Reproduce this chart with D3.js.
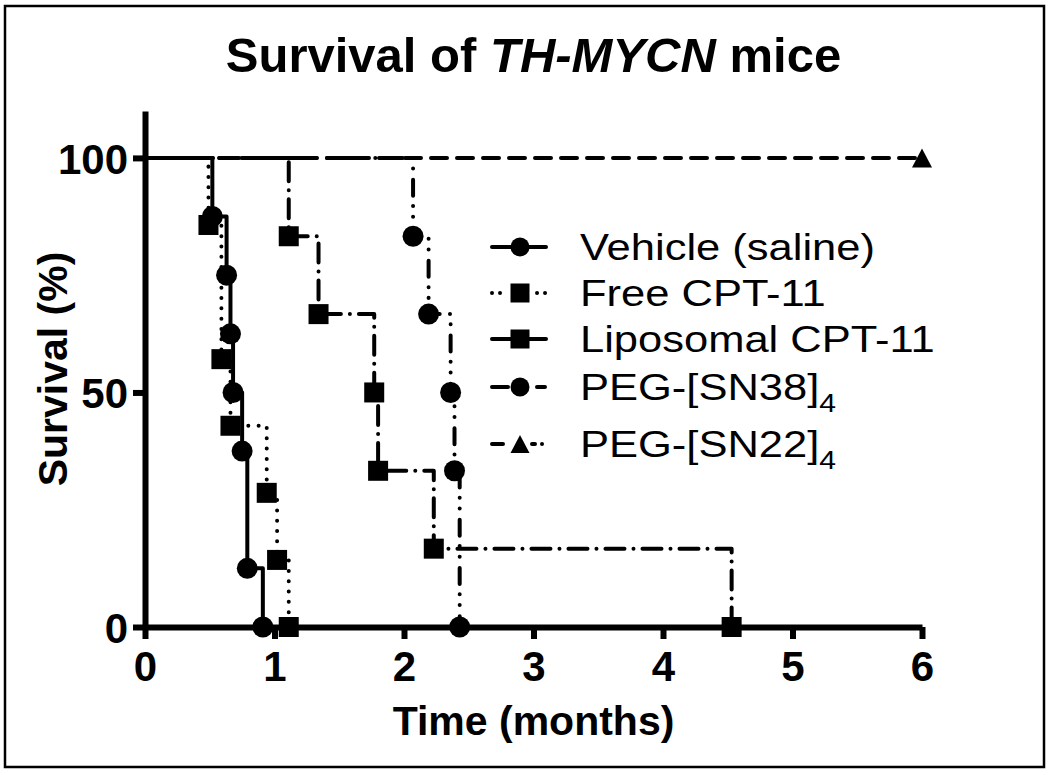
<!DOCTYPE html>
<html><head><meta charset="utf-8">
<script src="https://cdn.jsdelivr.net/npm/d3@7"></script>
<style>
body{margin:0;background:#fff}
svg{display:block}
text{font-family:"Liberation Sans",Arial,Helvetica,sans-serif;fill:#000}
</style>
</head><body>
<svg id="chart" width="1050" height="775"></svg>
<script>
// ---- data ----
const seriesNames = ["Vehicle (saline)", "Free CPT-11", "Liposomal CPT-11", "PEG-[SN38]", "PEG-[SN22]"];
const seriesSubs  = ["", "", "", "4", "4"];
const vehicleT    = [0.52, 0.63, 0.66, 0.68, 0.75, 0.79, 0.91];
const vehicleS    = [87.5, 75, 62.5, 50, 37.5, 12.5, 0];
const freeT       = [0.49, 0.59, 0.66, 0.94, 1.02, 1.11];
const freeS       = [85.7, 57.1, 42.9, 28.6, 14.3, 0];
const liposomalT  = [1.11, 1.34, 1.77, 1.80, 2.23, 4.53];
const liposomalS  = [83.3, 66.7, 50, 33.3, 16.7, 0];
const sn38T       = [2.07, 2.19, 2.36, 2.39, 2.43];
const sn38S       = [83.3, 66.7, 50, 33.3, 0];
const sn22T       = [6];
const sn22S       = [100];
const xTicks      = [0, 1, 2, 3, 4, 5, 6];
const yTicks      = [0, 50, 100];
const titleParts  = ["Survival of ", "TH-MYCN", " mice"];
const xLabel      = "Time (months)";
const yLabel      = "Survival (%)";

const seriesT = [vehicleT, freeT, liposomalT, sn38T, sn22T];
const seriesS = [vehicleS, freeS, liposomalS, sn38S, sn22S];

// ---- styles ----
const styles = [
  {marker: "circle",   dash: null,                          legendDash: null},
  {marker: "square",   dash: "0.01 10.3",                   legendDash: "0.01 8 0.01 37 0.01 8"},
  {marker: "square",   dash: "19 9 0.01 9",                 legendDash: null},
  {marker: "circle",   dash: "16 10.3 0.01 10.7 0.01 11.3", legendDash: "16 29 8 100"},
  {marker: "triangle", dash: "16 10",                       legendDash: "11 29 3 7 0.01 100"}
];

const series = seriesNames.map((name, i) => ({
  name, sub: seriesSubs[i], style: styles[i],
  points: [{t: 0, s: 100}].concat(seriesT[i].map((t, j) => ({t, s: seriesS[i][j]}))),
  events: seriesT[i].map((t, j) => ({t, s: seriesS[i][j]}))
}));

const svg = d3.select("#chart");

// frame
svg.append("rect").attr("x", 5).attr("y", 6).attr("width", 1039).attr("height", 761)
  .attr("fill", "none").attr("stroke", "#000").attr("stroke-width", 2.5);

const x = d3.scaleLinear().domain([0, 6]).range([145, 922]);
const y = d3.scaleLinear().domain([0, 110]).range([627, 111]);

// title
const title = svg.append("text").attr("x", 533.5).attr("y", 72)
  .attr("text-anchor", "middle").style("font-size", "49px").style("font-weight", "bold")
  .style("white-space", "pre");
titleParts.forEach((p, i) => {
  title.append("tspan").text(p).style("font-style", i === 1 ? "italic" : "normal");
});

// axes
const xAxis = svg.append("g").attr("transform", `translate(0,${y(0)})`)
  .call(d3.axisBottom(x).tickValues(xTicks).tickSize(12).tickSizeOuter(0).tickPadding(12).tickFormat(d3.format("d")));
const yAxis = svg.append("g").attr("transform", `translate(${x(0)},0)`)
  .call(d3.axisLeft(y).tickValues(yTicks).tickSize(12).tickSizeOuter(0).tickPadding(5).tickFormat(d3.format("d")));
[xAxis, yAxis].forEach(a => {
  a.select(".domain").attr("stroke", "#000").attr("stroke-width", 6);
  a.selectAll(".tick line").attr("stroke", "#000").attr("stroke-width", 6);
  a.selectAll(".tick text").style("font-size", "42px").style("font-weight", "bold")
    .attr("fill", "#000").style("font-family", '"Liberation Sans",Arial,sans-serif');
});
yAxis.selectAll(".tick text").attr("dy", "0.36em");

// axis labels
svg.append("text").attr("x", (x(0) + x(6)) / 2).attr("y", 735)
  .attr("text-anchor", "middle").style("font-size", "41px").style("font-weight", "bold").text(xLabel);
svg.append("text").attr("transform", `translate(67,${(y(0) + y(110)) / 2}) rotate(-90)`)
  .attr("text-anchor", "middle").style("font-size", "41px").style("font-weight", "bold").text(yLabel);

// curves
const line = d3.line().x(d => x(d.t)).y(d => y(d.s)).curve(d3.curveStepAfter);
const plotOrder = [4, 3, 2, 1, 0];
plotOrder.forEach(i => {
  const s = series[i];
  svg.append("path").attr("d", line(s.points)).attr("fill", "none")
    .attr("stroke", "#000").attr("stroke-width", 4)
    .attr("stroke-linecap", "round").attr("stroke-linejoin", "round")
    .attr("stroke-dasharray", s.style.dash);
});

function drawMarker(g, type, cx, cy, size) {
  if (type === "circle") {
    g.append("circle").attr("cx", cx).attr("cy", cy).attr("r", size / 2).attr("fill", "#000");
  } else if (type === "square") {
    g.append("rect").attr("x", cx - size / 2).attr("y", cy - size / 2)
      .attr("width", size).attr("height", size).attr("fill", "#000");
  } else {
    const h = size * 0.95;
    g.append("path").attr("d", `M${cx},${cy - h / 2}L${cx + size / 2},${cy + h / 2}L${cx - size / 2},${cy + h / 2}Z`)
      .attr("fill", "#000");
  }
}

const markers = svg.append("g");
plotOrder.forEach(i => {
  const s = series[i];
  s.events.forEach(e => drawMarker(markers, s.style.marker, x(e.t), y(e.s), s.style.marker === "circle" ? 21 : 20));
});

// legend
const legendRowsY = [247, 293, 339, 387, 444];
const legend = svg.append("g");
series.forEach((s, i) => {
  const ly = legendRowsY[i];
  legend.append("line").attr("x1", 492).attr("x2", 546).attr("y1", ly).attr("y2", ly)
    .attr("stroke", "#000").attr("stroke-width", 4).attr("stroke-linecap", "round")
    .attr("stroke-dasharray", s.style.legendDash);
  drawMarker(legend, s.style.marker, 520, ly, 19);
  const t = legend.append("text")
    .attr("transform", `translate(580,${ly + 13}) scale(1.16,1)`)
    .style("font-size", "37.5px");
  t.append("tspan").text(s.name);
  if (s.sub) t.append("tspan").text(s.sub).style("font-size", "26px").attr("dy", 12);
});
</script>
</body></html>
